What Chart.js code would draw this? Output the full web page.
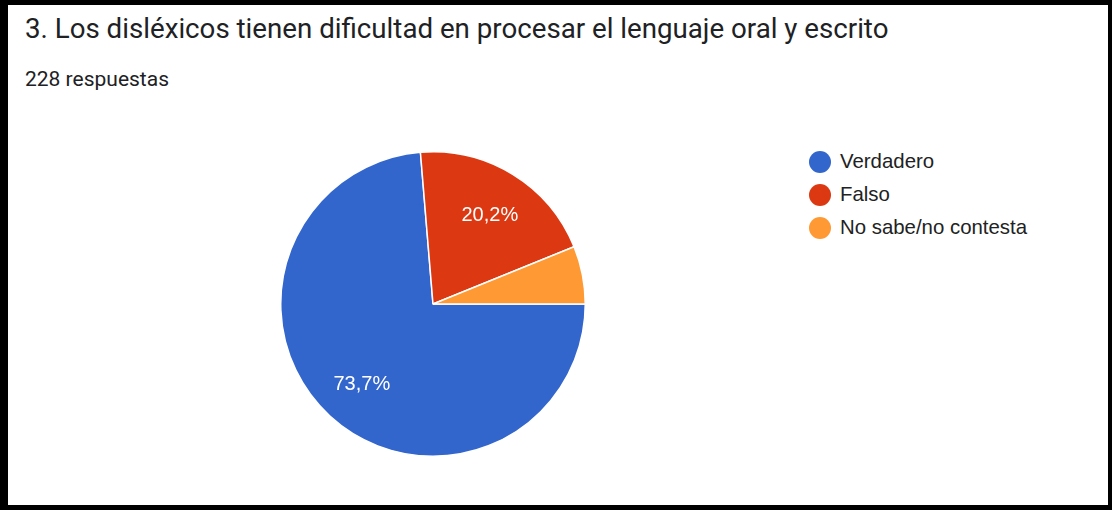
<!DOCTYPE html>
<html>
<head>
<meta charset="utf-8">
<script src="https://cdn.jsdelivr.net/npm/chart.js@4/dist/chart.umd.min.js"></script>
<style>
  html, body { margin: 0; padding: 0; }
  body { width: 1112px; height: 510px; background: #000; position: relative; overflow: hidden; }
  #card { position: absolute; left: 8px; top: 5px; width: 1100px; height: 500px; background: #fff; }
  #title { position: absolute; left: 25px; top: 15px; font: 27.7px Roboto, sans-serif; line-height: 28px; color: #202124; white-space: nowrap; }
  #sub { position: absolute; left: 25px; top: 69px; font: 21px Roboto, sans-serif; line-height: 21px; color: #202124; white-space: nowrap; }
  #pie { position: absolute; left: 280px; top: 151px; }
  #legend { position: absolute; left: 809px; top: 145px; font: 20.4px "Liberation Sans", Arial, sans-serif; color: #222; }
  .item { height: 33px; display: flex; align-items: center; }
  .dot { width: 22px; height: 22px; border-radius: 50%; margin-right: 9px; }
</style>
</head>
<body>
<div id="card"></div>
<div id="title">3. Los disléxicos tienen dificultad en procesar el lenguaje oral y escrito</div>
<div id="sub">228 respuestas</div>
<canvas id="pie" width="306" height="306"></canvas>
<div id="legend"></div>
<script>
// answers to question 3 (228 responses)
var labels = ['Verdadero', 'Falso', 'No sabe/no contesta'];
var counts = [168, 46, 14];
var colors = ['#3366CC', '#DC3912', '#FF9933'];

// legend built from the same arrays
var legendHtml = '';
for (var i = 0; i < labels.length; i++) {
  legendHtml += '<div class="item"><span class="dot" style="background:' + colors[i] + '"></span>' + labels[i] + '</div>';
}
document.getElementById('legend').innerHTML = legendHtml;

// percent labels inside the big slices
var pctLabels = {
  id: 'pctLabels',
  afterDatasetsDraw: function(chart) {
    var ctx = chart.ctx;
    var data = chart.data.datasets[0].data;
    var total = data.reduce(function(a, b) { return a + b; }, 0);
    chart.getDatasetMeta(0).data.forEach(function(arc, i) {
      var pct = data[i] / total * 100;
      if (pct < 10) return;
      var mid = (arc.startAngle + arc.endAngle) / 2;
      var r = arc.outerRadius * 0.7;
      ctx.save();
      ctx.fillStyle = '#fff';
      ctx.font = '20px "Liberation Sans", Arial, sans-serif';
      ctx.textAlign = 'center';
      ctx.textBaseline = 'middle';
      ctx.fillText(pct.toFixed(1).replace('.', ',') + '%', arc.x + Math.cos(mid) * r + 1, arc.y + Math.sin(mid) * r + 2);
      ctx.restore();
    });
  }
};

new Chart(document.getElementById('pie'), {
  type: 'pie',
  data: {
    labels: labels,
    datasets: [{
      data: counts,
      backgroundColor: colors,
      borderColor: '#fff',
      borderWidth: 1.5
    }]
  },
  options: {
    responsive: false,
    animation: false,
    rotation: 90,
    plugins: {
      legend: { display: false },
      tooltip: { enabled: false }
    }
  },
  plugins: [pctLabels]
});
</script>
</body>
</html>
